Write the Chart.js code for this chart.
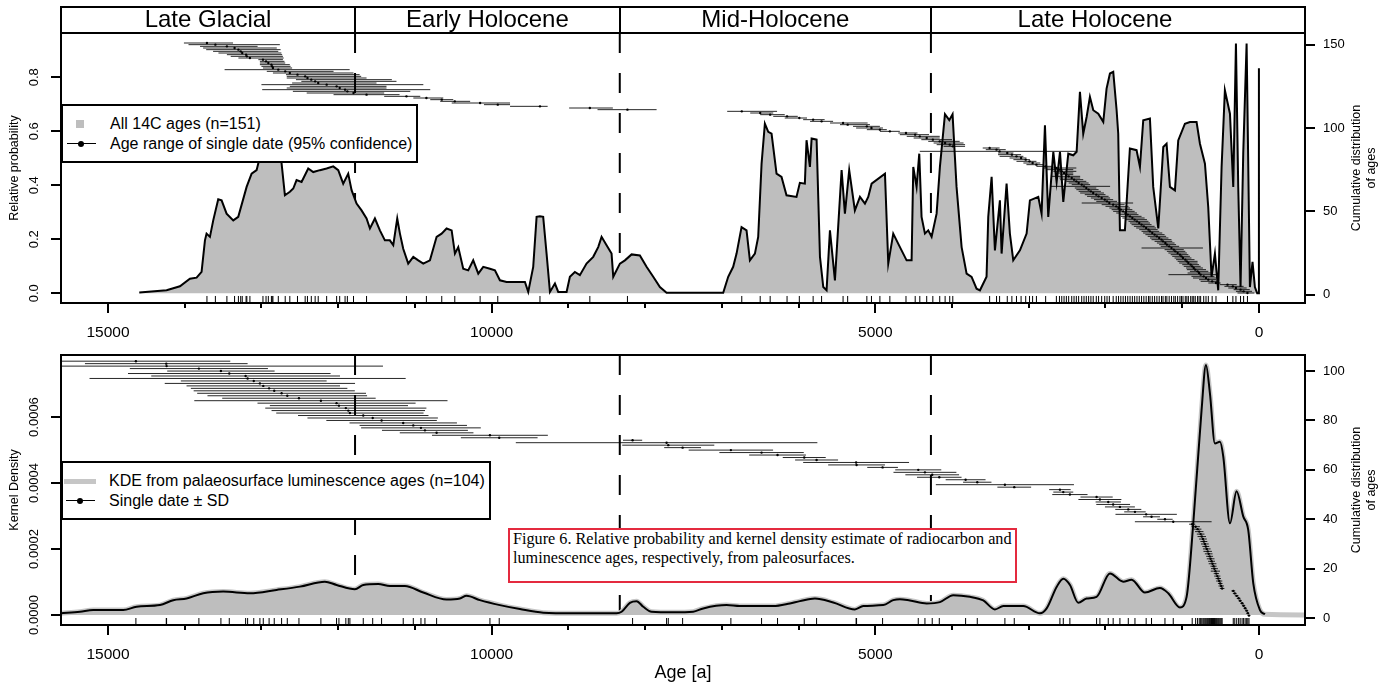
<!DOCTYPE html>
<html>
<head>
<meta charset="utf-8">
<title>Relative probability and kernel density of ages</title>
<script src="https://cdn.jsdelivr.net/npm/chart.js@4.4.1/dist/chart.umd.min.js"></script>
<style>
  html, body { margin: 0; padding: 0; background: #fff; }
  body { position: relative; width: 1381px; height: 686px; overflow: hidden; font-family: "Liberation Sans", Arial, sans-serif; }
  canvas { position: absolute; left: 0; }
  #chartTop { top: 0; }
  #chartBottom { top: 345px; }
  .box { position: absolute; box-sizing: border-box; background: #fff; border: 2px solid #000; }
  .lab { position: absolute; font-size: 16px; line-height: 20px; height: 20px; white-space: nowrap; color: #000; }
  .mk { position: absolute; }
  .dot { position: absolute; width: 6px; height: 6px; border-radius: 50%; background: #000; }
  #caption { position: absolute; left: 508px; top: 528px; width: 509px; height: 55px; box-sizing: border-box;
             border: 2px solid #e42a3f; background: #fff; padding: 0 0 0 3px;
             font-family: "Liberation Serif", "Times New Roman", serif; font-size: 16.2px; line-height: 18.5px; white-space: nowrap; }
</style>
</head>
<body>
<canvas id="chartTop" width="1381" height="345"></canvas>
<canvas id="chartBottom" width="1381" height="341"></canvas>

<!-- legend, upper panel -->
<div class="box" style="left:61px; top:104px; width:357px; height:59px;"></div>
<div class="mk" style="left:76px; top:120px; width:8px; height:8px; background:#bebebe;"></div>
<div class="lab" style="left:110px; top:114px;">All 14C ages (n=151)</div>
<div class="mk" style="left:67px; top:143px; width:29px; height:1px; background:#000;"></div>
<div class="dot" style="left:78px; top:141px;"></div>
<div class="lab" style="left:110px; top:134px;">Age range of single date (95% confidence)</div>

<!-- legend, lower panel -->
<div class="box" style="left:61px; top:461px; width:430px; height:59px;"></div>
<div class="mk" style="left:64px; top:479px; width:32px; height:5px; background:#c6c6c6;"></div>
<div class="lab" style="left:109px; top:471px;">KDE from palaeosurface luminescence ages (n=104)</div>
<div class="mk" style="left:66px; top:500px; width:29px; height:1px; background:#000;"></div>
<div class="dot" style="left:77px; top:498px;"></div>
<div class="lab" style="left:109px; top:491px;">Single date ± SD</div>

<div id="caption">Figure 6. Relative probability and kernel density estimate of radiocarbon and<br>luminescence ages, respectively, from paleosurfaces.</div>

<script>
// age axis (years, older to the left)
const AGE_OLDEST = 15612;
const AGE_YOUNGEST = -600;

const ageTicks = [15000, 10000, 5000, 0];
const probTicks = [0, 0.2, 0.4, 0.6, 0.8];
const countTicksTop = [0, 50, 100, 150];
const densityTicks = [0, 0.0002, 0.0004, 0.0006];
const countTicksBottom = [0, 20, 40, 60, 80, 100];

const periodNames = ['Late Glacial', 'Early Holocene', 'Mid-Holocene', 'Late Holocene'];
const periodOlder = [15612, 11780, 8330, 4275];
const periodYounger = [11780, 8330, 4275, 0];
const boundaryAges = [11780, 8330, 4275];

// summed probability of the 14C ages
const probAges = [14592, 14236, 14062, 13932, 13845, 13780, 13736, 13715, 13671, 13628, 13563, 13519, 13454, 13367, 13302,
  13193, 13128, 13063, 13020, 12976, 12933, 12880, 12820, 12760, 12737, 12694, 12629, 12585, 12542, 12477, 12390, 12325,
  12238, 12151, 12064, 11999, 11934, 11869, 11825, 11760, 11695, 11630, 11586, 11521, 11456, 11391, 11326, 11282, 11230,
  11195, 11152, 11087, 11021, 10956, 10891, 10804, 10717, 10652, 10587, 10521, 10478, 10435, 10370, 10305, 10240, 10174,
  10109, 10022, 9957, 9892, 9805, 9566, 9523, 9458, 9414, 9371, 9328, 9284, 9240, 9175, 9132, 9023, 8980, 8915, 8850,
  8763, 8676, 8611, 8567, 8502, 8437, 8415, 8328, 8263, 8176, 8068, 7981, 7894, 7807, 7720, 6982, 6917, 6852, 6808, 6743,
  6678, 6634, 6569, 6526, 6482, 6439, 6395, 6352, 6287, 6222, 6157, 6027, 5983, 5918, 5896, 5852, 5830, 5765, 5721, 5678,
  5635, 5591, 5526, 5439, 5396, 5340, 5266, 5200, 5135, 5092, 5048, 4874, 4831, 4766, 4700, 4592, 4527, 4505, 4462, 4427,
  4397, 4353, 4310, 4266, 4201, 4158, 4092, 4036, 3993, 3941, 3875, 3810, 3745, 3680, 3636, 3550, 3528, 3484, 3441, 3376,
  3354, 3289, 3246, 3202, 3115, 3028, 2985, 2876, 2833, 2789, 2746, 2680, 2637, 2593, 2550, 2485, 2420, 2376, 2333, 2290,
  2246, 2203, 2159, 2094, 2029, 1986, 1942, 1899, 1855, 1834, 1812, 1747, 1682, 1595, 1551, 1508, 1421, 1378, 1312, 1247,
  1204, 1160, 1095, 1052, 965, 900, 813, 769, 704, 661, 618, 574, 531, 487, 444, 378, 335, 300, 270, 240, 205, 161, 118,
  84, 53, 23, 3, 1, 0];
const probValues = [0.003, 0.011, 0.026, 0.054, 0.058, 0.079, 0.196, 0.221, 0.209, 0.270, 0.348, 0.344, 0.295, 0.270, 0.283,
  0.394, 0.443, 0.456, 0.505, 0.542, 0.590, 0.620, 0.600, 0.560, 0.480, 0.363, 0.376, 0.388, 0.419, 0.412, 0.462, 0.449,
  0.456, 0.462, 0.470, 0.456, 0.406, 0.443, 0.382, 0.332, 0.307, 0.277, 0.240, 0.277, 0.233, 0.196, 0.196, 0.178, 0.277,
  0.221, 0.165, 0.110, 0.135, 0.122, 0.110, 0.122, 0.209, 0.221, 0.240, 0.233, 0.147, 0.171, 0.091, 0.085, 0.122, 0.073,
  0.098, 0.091, 0.085, 0.048, 0.042, 0.042, 0.005, 0.098, 0.283, 0.285, 0.283, 0.147, 0.005, 0.036, 0.005, 0.005, 0.061, 0.079, 0.067,
  0.110, 0.135, 0.171, 0.209, 0.178, 0.147, 0.061, 0.110, 0.122, 0.144, 0.140, 0.098, 0.061, 0.023, 0.002, 0.002, 0.061, 0.098, 0.147, 0.245,
  0.233, 0.122, 0.147, 0.209, 0.480, 0.628, 0.598, 0.591, 0.443, 0.431, 0.363, 0.357, 0.409, 0.406, 0.567, 0.468, 0.573, 0.569, 0.135, 0.023,
  0.011, 0.233, 0.048, 0.456, 0.295, 0.456, 0.307, 0.357, 0.332, 0.357, 0.406, 0.443, 0.110, 0.221, 0.183, 0.122, 0.122, 0.468, 0.394, 0.517,
  0.283, 0.221, 0.233, 0.209, 0.295, 0.468, 0.663, 0.641, 0.663, 0.394, 0.171, 0.073, 0.061, 0.017, 0.011, 0.061, 0.283, 0.431, 0.159, 0.344,
  0.147, 0.406, 0.221, 0.122, 0.159, 0.221, 0.344, 0.357, 0.295, 0.622, 0.283, 0.524, 0.412, 0.524, 0.338, 0.517, 0.511, 0.524, 0.746, 0.591,
  0.653, 0.727, 0.678, 0.665, 0.635, 0.758, 0.814, 0.820, 0.678, 0.591, 0.233, 0.233, 0.536, 0.530, 0.468, 0.641, 0.647, 0.394, 0.240, 0.542,
  0.554, 0.394, 0.381, 0.566, 0.628, 0.634, 0.634, 0.554, 0.480, 0.319, 0.061, 0.147, 0.011, 0.468, 0.752, 0.665, 0.394, 0.925, 0.394, 0.023, 0.517, 0.925, 0.023,
  0.116, 0.023, 0.000, 0.000, 0.833, 0.000];

// calibrated 14C dates, youngest first: median and 95% range
const c14Median = [150, 200, 240, 300, 340, 410, 560, 610, 660, 690, 720, 760, 780, 800, 830, 850, 870, 890, 920, 940,
  960, 990, 1010, 1030, 1060, 1090, 1110, 1140, 1170, 1200, 1220, 1250, 1270, 1300, 1330, 1360, 1390, 1420, 1440, 1470,
  1500, 1530, 1560, 1590, 1620, 1650, 1680, 1710, 1740, 1770, 1800, 1830, 1860, 1900, 1950, 1980, 2010, 2050, 2090, 2120,
  2160, 2190, 2220, 2250, 2280, 2310, 2350, 2380, 2410, 2440, 2480, 2510, 2540, 2570, 2600, 2640, 2780, 2900, 2950, 2990,
  3040, 3100, 3160, 3220, 3280, 3380, 3420, 3510, 3990, 4030, 4090, 4160, 4250, 4330, 4420, 4480, 4600, 4810, 4940, 5050,
  5110, 5360, 5420, 5700, 5810, 5990, 6150, 6370, 6500, 6740, 8230, 8720, 9370, 9920, 10150, 10480, 10650, 10850, 11110, 11630,
  11800, 11880, 11910, 11980, 12020, 12150, 12260, 12300, 12350, 12400, 12430, 12530, 12630, 12690, 12780, 12850, 12860, 12870, 12910, 12940,
  12980, 13150, 13190, 13200, 13250, 13270, 13300, 13350, 13450, 13600, 13710];
const c14Young = [60, 90, 120, 160, 200, 290, 500, 540, 560, 560, 580, 550, 620, 660, 690, 730, 760, 780, 800, 800,
  840, 880, 900, 920, 940, 960, 980, 730, 1040, 1080, 1100, 1130, 1140, 1180, 1210, 1230, 1260, 1300, 1320, 1340,
  1360, 1400, 1420, 1440, 1460, 1490, 1530, 1570, 1590, 1620, 1650, 1680, 1700, 1750, 1640, 1850, 1900, 1940, 1960, 2000,
  2020, 2060, 2090, 2120, 1940, 2200, 2220, 2250, 2290, 2330, 2330, 2420, 2420, 2380, 2420, 2380, 2680, 2810, 2850, 2900,
  2985, 3030, 3070, 3100, 3200, 2380, 3300, 3380, 3830, 3830, 3850, 3900, 4000, 4160, 4160, 4300, 4450, 4680, 4850, 4900,
  4940, 5070, 5100, 5550, 5660, 5890, 6010, 6180, 6330, 6280, 7850, 8420, 9270, 9760, 9760, 10280, 10500, 10630, 10930, 11200,
  11400, 11060, 10800, 11370, 11370, 10890, 11500, 11240, 11300, 11630, 11700, 11720, 11800, 12060, 11850, 12600, 12620, 12630, 12690, 12700,
  12720, 12710, 12720, 12730, 12740, 12780, 12750, 12800, 13050, 12760, 13370];
const c14Old = [280, 300, 330, 400, 450, 510, 660, 760, 780, 860, 880, 1180, 930, 900, 940, 950, 980, 1000, 1040, 1060,
  1080, 1100, 1130, 1150, 1180, 1200, 1230, 1530, 1280, 1300, 1330, 1360, 1400, 1420, 1450, 1480, 1510, 1530, 1560, 1600,
  1630, 1660, 1680, 1700, 1740, 1780, 1800, 1820, 1860, 1900, 1920, 1950, 2000, 2050, 2310, 2120, 2150, 2190, 2240, 2270,
  2330, 2350, 2380, 2400, 2720, 2440, 2480, 2510, 2590, 2600, 2700, 2590, 2640, 2680, 2770, 2810, 2900, 3030, 3070, 3160,
  3200, 3250, 3380, 3400, 3400, 4420, 3560, 3600, 4110, 4200, 4240, 4310, 4400, 4500, 4590, 4680, 4700, 4940, 5110, 5250,
  5290, 5460, 5590, 5850, 5940, 6180, 6330, 6500, 6630, 6930, 8620, 8990, 9760, 10100, 10520, 10670, 10800, 11020, 11400, 12060,
  12410, 12590, 12990, 12670, 12630, 13000, 12600, 12480, 12550, 12670, 12670, 12680, 12850, 12930, 13480, 12980, 13000, 13020, 13020, 13020,
  13040, 13300, 13400, 13450, 13560, 13630, 13720, 13760, 13800, 13950, 14010];

// kernel density of the luminescence ages
const kdeAges = [15612, 15365, 15192, 14801, 14627, 14323, 14149, 13975, 13758, 13498, 13150, 12803, 12498, 12173, 12021,
  11782, 11673, 11478, 11326, 11130, 10891, 10587, 10413, 10327, 10153, 9892, 9631, 9327, 8936, 8372, 8306, 8198, 8111,
  8024, 7916, 7633, 7373, 7242, 6938, 6765, 6330, 6113, 5983, 5787, 5548, 5266, 5157, 4896, 4766, 4679, 4549, 4331, 4158,
  3984, 3767, 3593, 3441, 3332, 3072, 2854, 2767, 2637, 2550, 2463, 2355, 2246, 2116, 1942, 1769, 1660, 1486, 1291, 1182,
  1030, 943, 856, 748, 691, 639, 574, 509, 465, 378, 292, 205, 140, 74, -13, -78];
const kdeValues = [0.05e-4, 0.10e-4, 0.15e-4, 0.15e-4, 0.25e-4, 0.30e-4, 0.45e-4, 0.50e-4, 0.66e-4, 0.71e-4, 0.66e-4, 0.76e-4,
  0.86e-4, 1.01e-4, 0.91e-4, 0.78e-4, 0.91e-4, 0.94e-4, 0.88e-4, 0.88e-4, 0.68e-4, 0.47e-4, 0.50e-4, 0.58e-4, 0.45e-4,
  0.30e-4, 0.18e-4, 0.07e-4, 0.05e-4, 0.05e-4, 0.10e-4, 0.37e-4, 0.42e-4, 0.25e-4, 0.10e-4, 0.08e-4, 0.10e-4, 0.20e-4,
  0.30e-4, 0.27e-4, 0.27e-4, 0.35e-4, 0.42e-4, 0.50e-4, 0.38e-4, 0.17e-4, 0.27e-4, 0.30e-4, 0.45e-4, 0.48e-4, 0.44e-4,
  0.35e-4, 0.39e-4, 0.60e-4, 0.55e-4, 0.44e-4, 0.17e-4, 0.27e-4, 0.27e-4, 0.05e-4, 0.20e-4, 0.85e-4, 1.10e-4, 0.91e-4,
  0.37e-4, 0.50e-4, 0.55e-4, 1.26e-4, 1.01e-4, 1.07e-4, 0.68e-4, 0.82e-4, 0.66e-4, 0.23e-4, 0.55e-4, 2.78e-4, 6.21e-4,
  7.58e-4, 6.72e-4, 5.20e-4, 5.25e-4, 4.80e-4, 2.78e-4, 3.75e-4, 2.99e-4, 2.58e-4, 0.96e-4, 0.15e-4, 0.02e-4];

// luminescence dates, youngest first: age and standard deviation
const lumAge = [130, 145, 160, 180, 200, 220, 245, 265, 290, 315, 335,
  480, 492, 505, 518, 530, 543, 555, 568, 580, 592, 605, 618, 630, 643, 655, 668, 680, 693, 705, 718, 730, 745, 760, 778, 800, 825, 870,
  1117, 1225, 1400, 1470, 1616, 1703, 1812, 1900, 1964, 2073, 2116, 2464, 2550, 2594, 3189, 3311, 3671, 3823, 4166, 4258,
  4353, 4440, 4905, 5244, 5250, 5765, 5926, 6274, 6482, 6882, 7511, 7698, 7720, 8163, 9901, 10022, 10717, 10869, 10921,
  11021, 11152, 11434, 11550, 11673, 11847, 11868, 11900, 11990, 12021, 12225, 12511, 12663, 12737, 12833, 12900, 12976,
  13020, 13100, 13180, 13206, 13419, 13528, 13815, 14236, 14240, 14636];
const lumSd = [18, 18, 20, 20, 22, 22, 22, 25, 25, 25, 25,
  30, 35, 30, 40, 35, 40, 35, 60, 45, 40, 50, 45, 50, 45, 50, 55, 50, 45, 50, 45, 50, 55, 50, 55, 50, 55, 40,
  500, 100, 110, 400, 140, 170, 195, 220, 165, 280, 210, 230, 130, 140, 220, 900, 185, 260, 290, 350,
  410, 300, 200, 370, 690, 280, 280, 370, 550, 550, 240, 600, 1965, 125, 500, 755, 480, 560, 780,
  700, 700, 720, 850, 850, 960, 1000, 1050, 900, 1030, 1650, 1000, 1040, 1100, 1050, 1020, 1000,
  1240, 950, 2060, 1230, 1320, 700, 900, 2820, 1060, 1230];

const PROB_RANGE = [-0.036, 0.964];
const COUNT_RANGE_TOP = [-5, 157];
const DENSITY_RANGE = [-0.0000303, 0.000788];
const COUNT_RANGE_BOTTOM = [-2.8, 106.5];

const FONT = '"Liberation Sans", Arial, sans-serif';
Chart.defaults.font.family = FONT;
Chart.defaults.color = '#000';

function points(xs, ys) {
  return xs.map((v, i) => ({ x: v, y: ys[i] }));
}

// horizontal bars at y = rank, separated by gaps
function rangeBars(lo, hi) {
  const out = [];
  lo.forEach((l, i) => out.push({ x: l, y: i + 1 }, { x: hi[i], y: i + 1 }, { x: NaN, y: NaN }));
  return out;
}

function rugMarks(ages, y0, y1) {
  const out = [];
  ages.forEach(a => out.push({ x: a, y: y0 }, { x: a, y: y1 }, { x: NaN, y: NaN }));
  return out;
}

function boundaryLines(y0, y1) {
  const out = [];
  boundaryAges.forEach(a => out.push({ x: a, y: y1 }, { x: a, y: y0 }, { x: NaN, y: NaN }));
  return out;
}

function drawText(ctx, str, px, py, size, align, rot) {
  ctx.save();
  ctx.translate(px, py);
  if (rot) ctx.rotate(rot);
  ctx.font = size + 'px ' + FONT;
  ctx.textAlign = align;
  ctx.textBaseline = 'middle';
  ctx.fillText(str, 0, 0);
  ctx.restore();
}

const frames = {
  chartTop: { left: probTicks, digits: 1, right: countTicksTop, leftTitle: 'Relative probability', header: true },
  chartBottom: { left: densityTicks, digits: 4, right: countTicksBottom, leftTitle: 'Kernel Density', xTitle: 'Age [a]' }
};

// box, axes, titles and the period strip
const panelFrame = {
  id: 'panelFrame',
  afterDraw(chart) {
    const f = frames[chart.canvas.id];
    const { ctx, chartArea: a } = chart;
    const { x, y, y2 } = chart.scales;
    const midY = (a.top + a.bottom) / 2;
    ctx.save();
    ctx.strokeStyle = '#000';
    ctx.fillStyle = '#000';
    ctx.lineWidth = 2;
    ctx.strokeRect(a.left, a.top, a.right - a.left, a.bottom - a.top);

    ctx.beginPath();
    for (let v = 0; v <= 15000; v += 1000) {
      const px = Math.round(x.getPixelForValue(v));
      ctx.moveTo(px, a.bottom);
      ctx.lineTo(px, a.bottom + (ageTicks.includes(v) ? 10 : 5));
    }
    f.left.forEach(v => {
      const py = Math.round(y.getPixelForValue(v));
      ctx.moveTo(a.left - 10, py);
      ctx.lineTo(a.left, py);
    });
    f.right.forEach(v => {
      const py = Math.round(y2.getPixelForValue(v));
      ctx.moveTo(a.right, py);
      ctx.lineTo(a.right + 10, py);
    });
    ctx.stroke();

    ageTicks.forEach(v => drawText(ctx, String(v), x.getPixelForValue(v), a.bottom + 30, 15.5, 'center', 0));
    f.left.forEach(v => drawText(ctx, v.toFixed(f.digits), a.left - 27, y.getPixelForValue(v), 13, 'center', -Math.PI / 2));
    f.right.forEach(v => drawText(ctx, String(v), a.right + 18, y2.getPixelForValue(v), 13, 'left', 0));

    drawText(ctx, f.leftTitle, 15, midY, 12.5, 'center', -Math.PI / 2);
    drawText(ctx, 'Cumulative distribution', a.right + 52, midY, 12.5, 'center', -Math.PI / 2);
    drawText(ctx, 'of ages', a.right + 67, midY, 12.5, 'center', -Math.PI / 2);
    if (f.xTitle) drawText(ctx, f.xTitle, (a.left + a.right) / 2, a.bottom + 48, 18, 'center', 0);

    if (f.header) {
      const top = a.top - 26;
      ctx.strokeRect(a.left, top, a.right - a.left, 26);
      ctx.beginPath();
      boundaryAges.forEach(b => {
        const px = Math.round(x.getPixelForValue(b));
        ctx.moveTo(px, top);
        ctx.lineTo(px, a.top);
      });
      ctx.stroke();
      periodNames.forEach((name, i) => {
        const cx = (x.getPixelForValue(periodOlder[i]) + x.getPixelForValue(periodYounger[i])) / 2;
        drawText(ctx, name, cx, top + 13, 24, 'center', 0);
      });
    }
    ctx.restore();
  }
};

function panelOptions(padTop, xHeight, yRange, y2Range) {
  const hidden = { display: false, drawTicks: false };
  return {
    responsive: false,
    animation: false,
    events: [],
    layout: { padding: { top: padTop, left: 0, right: 0, bottom: 0 } },
    plugins: { legend: { display: false }, tooltip: { enabled: false } },
    elements: { point: { radius: 0 }, line: { tension: 0 } },
    scales: {
      x: { type: 'linear', reverse: true, min: AGE_YOUNGEST, max: AGE_OLDEST, grid: hidden, border: { display: false },
           ticks: { display: false }, afterFit: s => { s.height = xHeight; } },
      y: { type: 'linear', position: 'left', min: yRange[0], max: yRange[1], grid: hidden, border: { display: false },
           ticks: { display: false }, afterFit: s => { s.width = 61; } },
      y2: { type: 'linear', position: 'right', min: y2Range[0], max: y2Range[1], grid: hidden, border: { display: false },
            ticks: { display: false }, afterFit: s => { s.width = 76; } }
    }
  };
}

// upper panel: summed 14C probability with calibrated ranges
new Chart(document.getElementById('chartTop'), {
  type: 'line',
  data: {
    datasets: [
      { data: boundaryLines(0, PROB_RANGE[1]), yAxisID: 'y', borderColor: '#000', borderWidth: 2, borderDash: [20, 20], order: 5 },
      { data: points(probAges, probValues), yAxisID: 'y', borderColor: '#000', borderWidth: 2, backgroundColor: '#bebebe',
        fill: 'origin', order: 4 },
      { data: rangeBars(c14Young, c14Old), yAxisID: 'y2', borderColor: 'rgba(0,0,0,0.85)', borderWidth: 1, order: 2 },
      { data: points(c14Median, c14Median.map((m, i) => i + 1)), yAxisID: 'y2', showLine: false, pointRadius: 1.2,
        pointBackgroundColor: '#000', pointBorderWidth: 0, order: 1 },
      { data: rugMarks(c14Median, PROB_RANGE[0], -0.010), yAxisID: 'y', borderColor: '#000', borderWidth: 1, order: 0 }
    ]
  },
  options: panelOptions(33, 42, PROB_RANGE, COUNT_RANGE_TOP),
  plugins: [panelFrame]
});

// lower panel: kernel density of luminescence ages with ± SD bars
const kdePoints = points(kdeAges, kdeValues);
new Chart(document.getElementById('chartBottom'), {
  type: 'line',
  data: {
    datasets: [
      { data: boundaryLines(0, DENSITY_RANGE[1]), yAxisID: 'y', borderColor: '#000', borderWidth: 2, borderDash: [20, 20], order: 6 },
      { data: kdePoints.concat([{ x: AGE_YOUNGEST, y: 0 }]), yAxisID: 'y', borderColor: '#c6c6c6', borderWidth: 5,
        cubicInterpolationMode: 'monotone', order: 5 },
      { data: kdePoints, yAxisID: 'y', borderColor: '#000', borderWidth: 2, backgroundColor: '#bebebe', fill: 'origin',
        cubicInterpolationMode: 'monotone', order: 4 },
      { data: rangeBars(lumAge.map((a, i) => a - lumSd[i]), lumAge.map((a, i) => a + lumSd[i])), yAxisID: 'y2',
        borderColor: 'rgba(0,0,0,0.85)', borderWidth: 1, order: 2 },
      { data: points(lumAge, lumAge.map((a, i) => i + 1)), yAxisID: 'y2', showLine: false, pointRadius: 1.2,
        pointBackgroundColor: '#000', pointBorderWidth: 0, order: 1 },
      { data: rugMarks(lumAge, DENSITY_RANGE[0], -0.0000091), yAxisID: 'y', borderColor: '#000', borderWidth: 1, order: 0 }
    ]
  },
  options: panelOptions(10, 61, DENSITY_RANGE, COUNT_RANGE_BOTTOM),
  plugins: [panelFrame]
});
</script>
</body>
</html>
